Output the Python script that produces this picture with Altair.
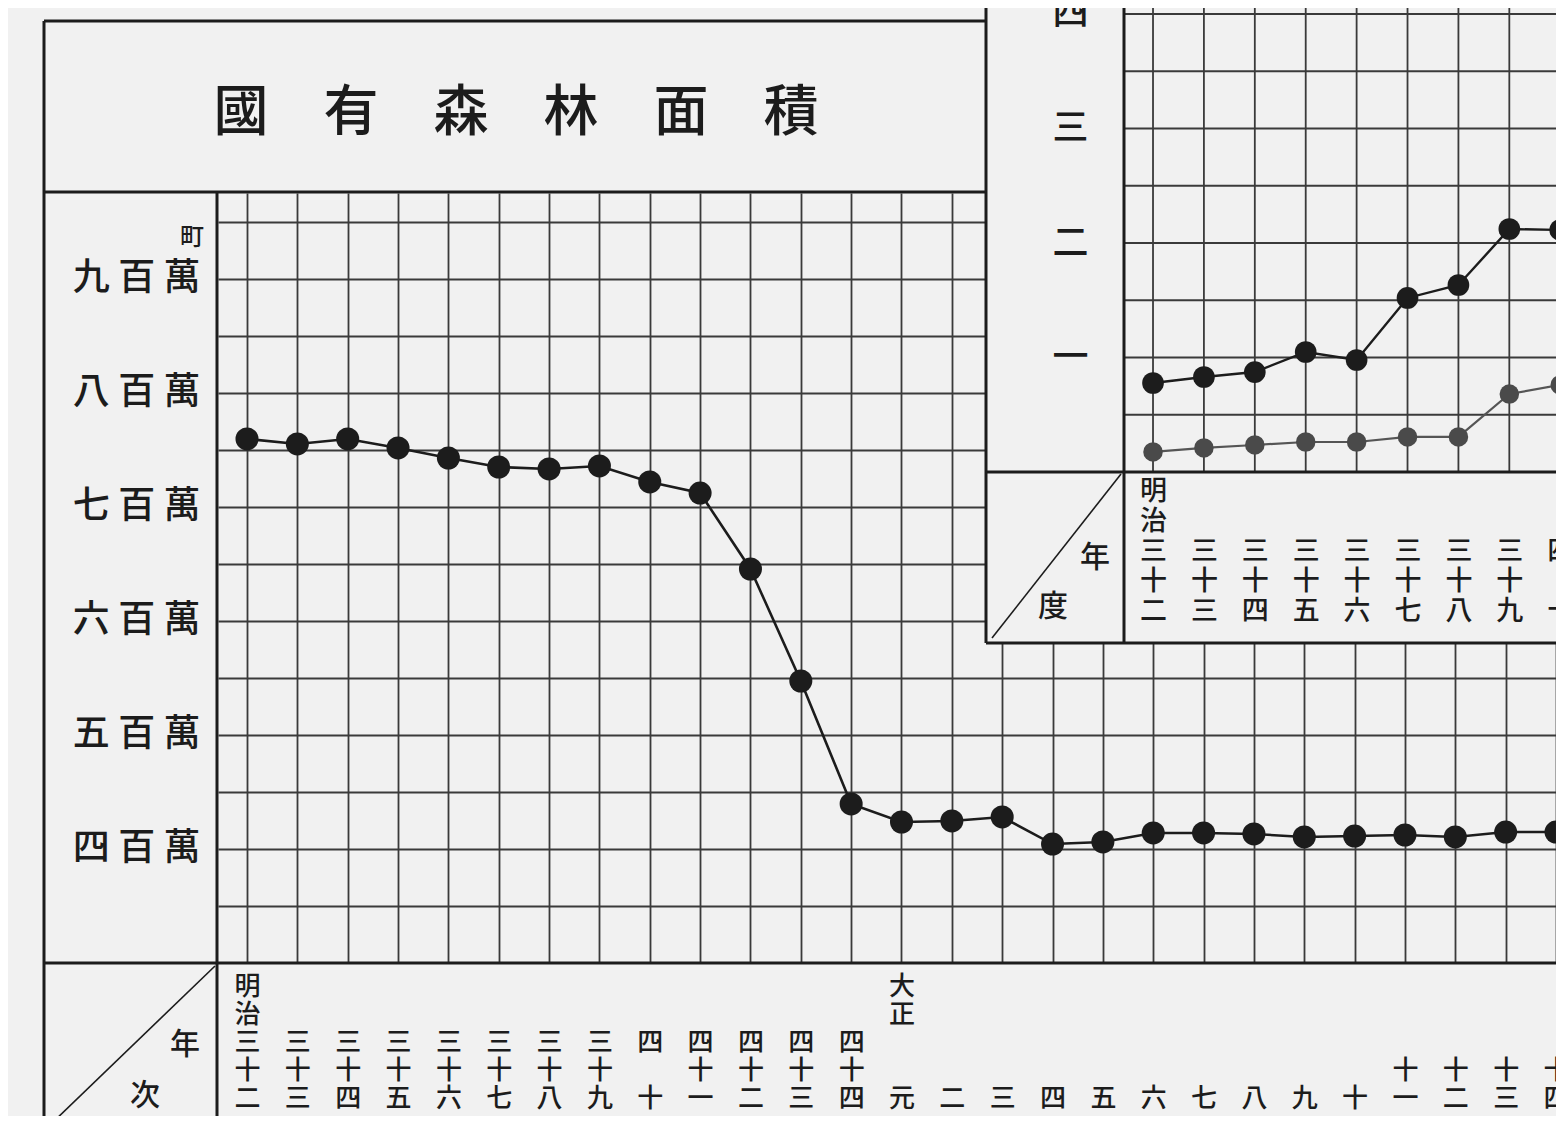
import json
import altair as alt
import pandas as pd

FONT = "Noto Sans CJK JP"
INK = "#1c1c1c"
GRID = "#3a3a3a"
PAPER = "#f1f1f1"
WEIGHT = 500
B = "\u2800"  # blank (non-collapsing) row in a stacked year label

# ---------------- data ----------------
# 國有森林面積 (町), 明治三十二年 – 大正十四年
main_index = list(range(27))
main_area = [7594000, 7550000, 7594000, 7515000, 7427000, 7348000, 7331000,
             7357000, 7217000, 7120000, 6454000, 5472000, 4394000, 4236000,
             4245000, 4280000, 4043000, 4061000, 4140000, 4140000, 4131000,
             4105000, 4113000, 4122000, 4105000, 4148000, 4148000]

# year labels, stacked vertically (five rows, bottom aligned)
year_stacks = [
    ["明", "治", "三", "十", "二"],
    [B, B, "三", "十", "三"],
    [B, B, "三", "十", "四"],
    [B, B, "三", "十", "五"],
    [B, B, "三", "十", "六"],
    [B, B, "三", "十", "七"],
    [B, B, "三", "十", "八"],
    [B, B, "三", "十", "九"],
    [B, B, "四", B, "十"],
    [B, B, "四", "十", "一"],
    [B, B, "四", "十", "二"],
    [B, B, "四", "十", "三"],
    [B, B, "四", "十", "四"],
    ["大", "正", B, B, "元"],
    [B, B, B, B, "二"],
    [B, B, B, B, "三"],
    [B, B, B, B, "四"],
    [B, B, B, B, "五"],
    [B, B, B, B, "六"],
    [B, B, B, B, "七"],
    [B, B, B, B, "八"],
    [B, B, B, B, "九"],
    [B, B, B, B, "十"],
    [B, B, B, "十", "一"],
    [B, B, B, "十", "二"],
    [B, B, B, "十", "三"],
    [B, B, B, "十", "四"],
]

y_tick_values = [3500000, 4000000, 4500000, 5000000, 5500000, 6000000, 6500000,
                 7000000, 7500000, 8000000, 8500000, 9000000, 9500000]
y_label_values = [4000000, 5000000, 6000000, 7000000, 8000000, 9000000]
y_label_texts = ["四 百 萬", "五 百 萬", "六 百 萬", "七 百 萬", "八 百 萬", "九 百 萬"]

# inset (upper right), 明治三十二年 – 四十年
inset_index = list(range(9))
inset_dark = [0.777, 0.830, 0.873, 1.048, 0.978, 1.520, 1.633, 2.122, 2.114]
inset_gray = [0.175, 0.210, 0.236, 0.262, 0.262, 0.306, 0.306, 0.681, 0.760]
inset_stacks = year_stacks[:9]
inset_grid_values = [0.5, 1.0, 1.5, 2.0, 2.5, 3.0, 3.5, 4.0]
inset_label_values = [1, 2, 3, 4]
inset_label_texts = ["一", "二", "三", "四"]

TITLE = "國　有　森　林　面　積"

# ---------------- layout ----------------
W, H = 1338, 770
PAD = {"left": 210, "top": 185, "right": 0, "bottom": 153}

one = pd.DataFrame({"a": [0]})


def seg(x1, y1, x2, y2, w=3.0):
    return alt.Chart(one).mark_rule(color=INK, strokeWidth=w, clip=False).encode(
        x=alt.value(x1), y=alt.value(y1), x2=alt.value(x2), y2=alt.value(y2))


def label(txt, x, y, size):
    return alt.Chart(one).mark_text(
        text=txt, font=FONT, fontSize=size, fontWeight=WEIGHT, color=INK, align="center",
        baseline="middle", clip=False).encode(x=alt.value(x), y=alt.value(y))


def chain(values, texts):
    return " : ".join(f"datum.value == {v} ? '{t}'" for v, t in zip(values, texts)) + " : ''"


# ---------------- main chart ----------------
main_df = pd.DataFrame({"idx": main_index, "area": main_area})
xs = alt.Scale(domain=[-0.576, 26.0], nice=False, zero=False)
ys = alt.Scale(domain=[3000000, 9750000], nice=False, zero=False)

x_axis = alt.Axis(
    values=main_index, labelExpr=json.dumps(year_stacks, ensure_ascii=False) + "[datum.value]",
    grid=True, gridColor=GRID, gridWidth=1.8, gridOpacity=1, domain=False, ticks=False,
    labelFont=FONT, labelFontSize=26, labelFontWeight=WEIGHT, labelLineHeight=28,
    labelBaseline="top", labelAlign="center", labelPadding=10, labelFlush=False,
    labelOverlap=False, labelColor=INK, title=None)
y_axis = alt.Axis(
    values=y_tick_values, labelExpr=chain(y_label_values, y_label_texts),
    grid=True, gridColor=GRID, gridWidth=1.8, gridOpacity=1, domain=False, ticks=False,
    labelFont=FONT, labelFontSize=37, labelFontWeight=WEIGHT, labelAlign="right",
    labelBaseline="middle", labelPadding=18, labelFlush=False, labelOverlap=False,
    labelColor=INK, title=None)

enc = dict(x=alt.X("idx:Q", scale=xs, axis=x_axis), y=alt.Y("area:Q", scale=ys, axis=y_axis))
main_line = alt.Chart(main_df).mark_line(color=INK, strokeWidth=2.6).encode(**enc)
main_pts = alt.Chart(main_df).mark_circle(color=INK, size=530, opacity=1).encode(**enc)

main_group = alt.layer(
    main_line, main_pts,
    seg(-174, -172, -174, 923),      # outer left border
    seg(-174, -172, 768, -172),      # title box top
    seg(-174, -1, 768, -1),          # plot top / title box bottom
    seg(-1, -1, -1, 923),            # label column right
    seg(-174, 770, W, 770),          # bottom row top
    seg(-168, 932, -3, 773, 1.6),    # diagonal
    label("年", -33, 852, 30),
    label("次", -73, 903, 30),
    label("町", -26, 45, 24),
    label(TITLE, 298, -80, 55),
)

# ---------------- inset ----------------
# inset scales reach beyond the plot area (the inset sits over its upper right corner)
ixs = alt.Scale(domain=[-18.369, 9.135], range=[0, 1400], nice=False, zero=False)
iys = alt.Scale(domain=[-4.2882, 4.0524], range=[770, -185], nice=False, zero=False)

ix_axis = alt.Axis(
    orient="bottom", offset=-491, values=inset_index,
    labelExpr=json.dumps(inset_stacks, ensure_ascii=False) + "[datum.value]",
    grid=False, domain=False, ticks=False, labelFont=FONT, labelFontSize=27,
    labelFontWeight=WEIGHT, labelLineHeight=30, labelBaseline="top", labelAlign="center",
    labelPadding=6, labelFlush=False, labelOverlap=False, labelColor=INK, zindex=1, title=None)
iy_axis = alt.Axis(
    orient="left", offset=-906, values=inset_label_values,
    labelExpr=chain(inset_label_values, inset_label_texts),
    grid=False, domain=False, ticks=False, labelFont=FONT, labelFontSize=36,
    labelFontWeight=WEIGHT, labelAlign="center", labelBaseline="middle", labelPadding=54,
    labelFlush=False, labelOverlap=False, labelColor=INK, zindex=1, title=None)

IX = alt.X("idx:Q", scale=ixs, axis=ix_axis)
IY = alt.Y("val:Q", scale=iys, axis=iy_axis)

inset_bg = alt.Chart(one).mark_rect(color=PAPER, clip=False).encode(
    x=alt.value(768), x2=alt.value(W), y=alt.value(-185), y2=alt.value(450))

vgrid = alt.Chart(pd.DataFrame({"idx": inset_index})).mark_rule(
    color=GRID, strokeWidth=1.8, clip=False).encode(x=IX, y=alt.value(-185), y2=alt.value(279))
hgrid = alt.Chart(pd.DataFrame({"val": inset_grid_values})).mark_rule(
    color=GRID, strokeWidth=1.8, clip=False).encode(y=IY, x=alt.value(906), x2=alt.value(W))

dark_df = pd.DataFrame({"idx": inset_index, "val": inset_dark})
gray_df = pd.DataFrame({"idx": inset_index, "val": inset_gray})
dark_line = alt.Chart(dark_df).mark_line(color=INK, strokeWidth=2.4, clip=False).encode(x=IX, y=IY)
dark_pts = alt.Chart(dark_df).mark_circle(color=INK, size=470, opacity=1, clip=False).encode(x=IX, y=IY)
gray_line = alt.Chart(gray_df).mark_line(color="#555555", strokeWidth=2.2, clip=False).encode(x=IX, y=IY)
gray_pts = alt.Chart(gray_df).mark_circle(color="#4a4a4a", size=380, opacity=1, clip=False).encode(x=IX, y=IY)

inset_group = alt.layer(
    inset_bg, vgrid, hgrid, gray_line, gray_pts, dark_line, dark_pts,
    seg(768, -185, 768, 450),        # inset left border
    seg(768, 450, W, 450),           # inset bottom border
    seg(906, -185, 906, 450),        # inset label column right
    seg(768, 279, W, 279),           # inset plot bottom
    seg(774, 445, 903, 281, 1.6),    # inset diagonal
    label("年", 877, 365, 30),
    label("度", 835, 414, 30),
)

chart = alt.layer(main_group, inset_group).resolve_scale(
    x="independent", y="independent"
).properties(
    width=W, height=H,
    autosize=alt.AutoSizeParams(type="none"),
    padding=PAD,
    background=PAPER,
).configure_view(stroke="transparent")

chart.save("out.html", embed_options={"renderer": "svg", "actions": False})
